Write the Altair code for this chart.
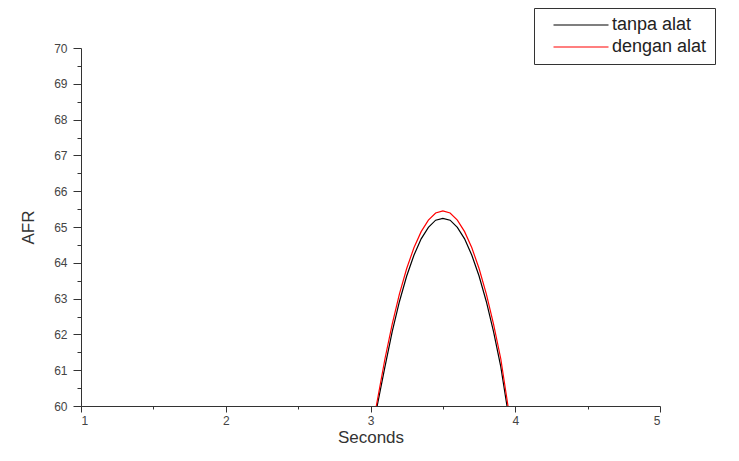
import altair as alt
import pandas as pd

# Estimated readings from the reference
x_tanpa = [3.046, 3.10, 3.15, 3.20, 3.25, 3.30, 3.35, 3.40, 3.45, 3.50,
           3.55, 3.60, 3.65, 3.70, 3.75, 3.80, 3.85, 3.90, 3.943]
y_tanpa = [60.00, 61.10, 62.08, 62.92, 63.63, 64.21, 64.67, 64.99, 65.19, 65.24,
           65.19, 64.99, 64.67, 64.21, 63.63, 62.92, 62.08, 61.10, 60.00]
x_dengan = [3.04, 3.10, 3.15, 3.20, 3.25, 3.30, 3.35, 3.40, 3.45, 3.50,
            3.55, 3.60, 3.65, 3.70, 3.75, 3.80, 3.85, 3.90, 3.95]
y_dengan = [60.00, 61.32, 62.29, 63.13, 63.84, 64.42, 64.87, 65.19, 65.39, 65.45,
            65.39, 65.19, 64.87, 64.42, 63.84, 63.13, 62.29, 61.32, 60.00]
series_names = ["tanpa alat", "dengan alat"]
series_colors = ["#000000", "#ff0000"]
x_ticks = [1, 1.5, 2, 2.5, 3, 3.5, 4, 4.5, 5]
y_ticks = [60 + 0.5 * i for i in range(21)]

rows = []
for i, (x, y) in enumerate(zip(x_tanpa, y_tanpa)):
    rows.append({"Seconds": x, "AFR": y, "series": series_names[0], "order": i})
for i, (x, y) in enumerate(zip(x_dengan, y_dengan)):
    rows.append({"Seconds": x, "AFR": y, "series": series_names[1], "order": i})
df = pd.DataFrame(rows)

font = "Liberation Sans"
int_label = "datum.value % 1 === 0 ? format(datum.value, 'd') : ''"

chart = alt.Chart(df).mark_line(strokeWidth=1.2, clip=True).encode(
    x=alt.X("Seconds:Q",
            scale=alt.Scale(domain=[1, 5], nice=False, zero=False),
            axis=alt.Axis(values=x_ticks, title="Seconds", labelExpr=int_label,
                          tickSize={"condition": {"test": "datum.value % 1 === 0", "value": 6}, "value": 3},
                          grid=False, domainColor="#333333", tickColor="#333333",
                          labelColor="#444444", labelFontSize=12, labelFont=font,
                          labelPadding=3, titleFont=font, titleFontSize=17,
                          titleFontWeight="normal", titleColor="#333333", titlePadding=3)),
    y=alt.Y("AFR:Q",
            scale=alt.Scale(domain=[60, 70], nice=False, zero=False),
            axis=alt.Axis(values=y_ticks, title="AFR", labelExpr=int_label,
                          tickSize={"condition": {"test": "datum.value % 1 === 0", "value": 8}, "value": 4},
                          grid=False, domainColor="#333333", tickColor="#333333",
                          labelColor="#444444", labelFontSize=12, labelFont=font,
                          labelPadding=6, titleFont=font, titleFontSize=17,
                          titleFontWeight="normal", titleColor="#333333", titlePadding=16)),
    color=alt.Color("series:N",
                    scale=alt.Scale(domain=series_names, range=series_colors),
                    legend=alt.Legend(title=None, orient="none", legendX=453, legendY=-40,
                                      symbolType="M-5,0H5", symbolSize=121, symbolStrokeWidth=1.2,
                                      symbolOffset=30, padding=8, labelFont=font, labelFontSize=18,
                                      labelColor="#222222", labelOffset=22, rowPadding=4,
                                      strokeColor="#333333", fillColor="white")),
    order="order:Q",
).properties(
    width=579, height=358,
    autosize=alt.AutoSizeParams(type="none"),
    padding={"left": 73, "top": 40, "right": 70, "bottom": 43},
).configure_view(stroke=None)

chart.save("out.html", embed_options={"renderer": "svg", "actions": False})
